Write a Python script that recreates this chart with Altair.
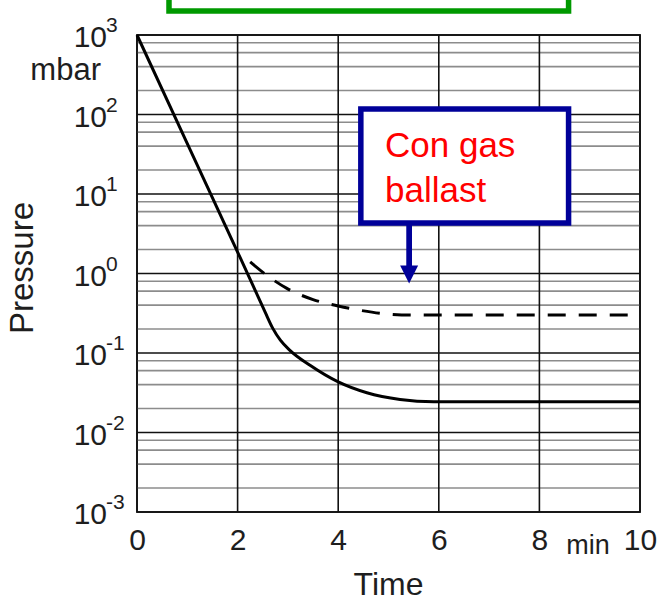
import altair as alt
import pandas as pd

# ---- data ----
solid_t = [0, 1, 2, 2.3, 2.55, 2.7, 2.85, 3.04, 3.44, 3.99, 4.57, 5.23, 5.9, 10]
solid_p = [1000, 43, 1.86, 0.72, 0.324, 0.204, 0.145, 0.108, 0.07, 0.0436, 0.0316, 0.026, 0.0243, 0.0243]

dash_t = [2.25, 2.58, 2.98, 3.5, 4.0, 4.43, 4.96, 5.5, 6, 10]
dash_p = [1.4, 0.95, 0.65, 0.47, 0.39, 0.345, 0.31, 0.3, 0.3, 0.3]

decades = [1e-3, 1e-2, 1e-1, 1e0, 1e1, 1e2, 1e3]
exponents = ["-3", "-2", "-1", "0", "1", "2", "3"]
minor_mult = [2, 4, 6, 8]
x_ticks = [0, 2, 4, 6, 8, 10]

minor_vals = [m * d for d in decades[:-1] for m in minor_mult]

FONT = "Liberation Sans"
TXT = "#1e1e1e"

xscale = alt.Scale(domain=[0, 10], nice=False, zero=False)
yscale = alt.Scale(type="log", domain=[1e-3, 1e3], nice=False)
xaxis = alt.Axis(values=x_ticks, labels=True, ticks=False, tickSize=0, domain=False,
                 grid=False, title=None, labelFontSize=30, labelFont=FONT,
                 labelColor=TXT, labelPadding=37, labelBaseline="alphabetic",
                 labelFlush=False, labelOverlap=False)
X = alt.X("t:Q", scale=xscale, axis=xaxis)
Y = alt.Y("p:Q", scale=yscale, axis=None)

df_solid = pd.DataFrame({"t": solid_t, "p": solid_p})
df_dash = pd.DataFrame({"t": dash_t, "p": dash_p})
df_dec = pd.DataFrame({"p": decades, "e": exponents})
df_minor = pd.DataFrame({"p": minor_vals})
df_vx = pd.DataFrame({"t": x_ticks})

minor_rules = alt.Chart(df_minor).mark_rule(color="#8c8c8c", strokeWidth=1.6).encode(y=Y)
dec_rules = alt.Chart(df_dec).mark_rule(color="#111111", strokeWidth=1.6).encode(y=Y)
v_rules = alt.Chart(df_vx).mark_rule(color="#111111", strokeWidth=1.6).encode(x=X)

solid = alt.Chart(df_solid).mark_line(color="#000000", strokeWidth=3,
                                      interpolate="monotone").encode(x=X, y=Y)
dashed = alt.Chart(df_dash).mark_line(color="#000000", strokeWidth=3,
                                      strokeDash=[18, 13],
                                      interpolate="monotone").encode(x=X, y=Y)

# annotation boxes
df_green = pd.DataFrame({"t": [0.636], "t2": [8.58], "p": [2005], "p2": [10 ** 3.9]})
green = alt.Chart(df_green).mark_rect(fill="white", stroke="#009900",
                                      strokeWidth=5.5).encode(
    x=X, x2="t2:Q", y=Y, y2="p2:Q")

df_blue = pd.DataFrame({"t": [4.45], "t2": [8.58], "p": [117], "p2": [4.31]})
blue = alt.Chart(df_blue).mark_rect(fill="white", stroke="#000099",
                                    strokeWidth=5.5).encode(
    x=X, x2="t2:Q", y=Y, y2="p2:Q")

df_shaft = pd.DataFrame({"t": [5.41], "p": [4.31], "p2": [1.17]})
shaft = alt.Chart(df_shaft).mark_rule(color="#000099", strokeWidth=5.7).encode(
    x=X, y=Y, y2="p2:Q")

df_head = pd.DataFrame({"t": [5.41], "p": [0.971]})
head = alt.Chart(df_head).mark_point(shape="M-1,-1L1,-1L0,1Z", filled=True,
                                     fill="#000099", stroke=None, opacity=1,
                                     size=324).encode(x=X, y=Y)

df_note = pd.DataFrame({"t": [4.93, 4.93], "p": [29.4, 8.0],
                        "label": ["Con gas", "ballast"]})
note = alt.Chart(df_note).mark_text(align="left", baseline="alphabetic",
                                    fontSize=35, font=FONT, color="#ff0000").encode(
    x=X, y=Y, text="label:N")

# y tick labels: 10 with superscript exponent
ten = alt.Chart(df_dec).mark_text(align="right", baseline="alphabetic", dy=12,
                                  fontSize=30, font=FONT, color=TXT).encode(
    y=Y, x=alt.value(-30), text=alt.value("10"))
exp = alt.Chart(df_dec).mark_text(align="left", baseline="alphabetic", dy=-3,
                                  fontSize=21, font=FONT, color=TXT).encode(
    y=Y, x=alt.value(-31), text="e:N")

base = alt.Chart(pd.DataFrame({"k": [0]}))
mbar = base.mark_text(align="right", baseline="alphabetic", fontSize=31,
                      font=FONT, color=TXT).encode(
    x=alt.value(-36), y=alt.value(45), text=alt.value("mbar"))
minlab = base.mark_text(align="center", baseline="alphabetic", fontSize=27,
                        font=FONT, color=TXT).encode(
    x=alt.value(451), y=alt.value(519), text=alt.value("min"))
ytitle = base.mark_text(align="center", baseline="alphabetic", fontSize=33,
                        font=FONT, color=TXT, angle=270).encode(
    x=alt.value(-104), y=alt.value(233), text=alt.value("Pressure"))
xtitle = base.mark_text(align="center", baseline="alphabetic", fontSize=32,
                        font=FONT, color=TXT).encode(
    x=alt.value(251.5), y=alt.value(560), text=alt.value("Time"))

chart = alt.layer(
    minor_rules, dec_rules, v_rules, solid, dashed, green, blue, shaft, head,
    note, ten, exp, mbar, minlab, ytitle, xtitle
).properties(
    width=503, height=477,
    autosize=alt.AutoSizeParams(type="none"),
    padding={"left": 137, "top": 35, "right": 17, "bottom": 89},
    background="white",
).configure_view(stroke="#333333", strokeWidth=2)

chart.save("out.html", embed_options={"renderer": "svg", "actions": False})
